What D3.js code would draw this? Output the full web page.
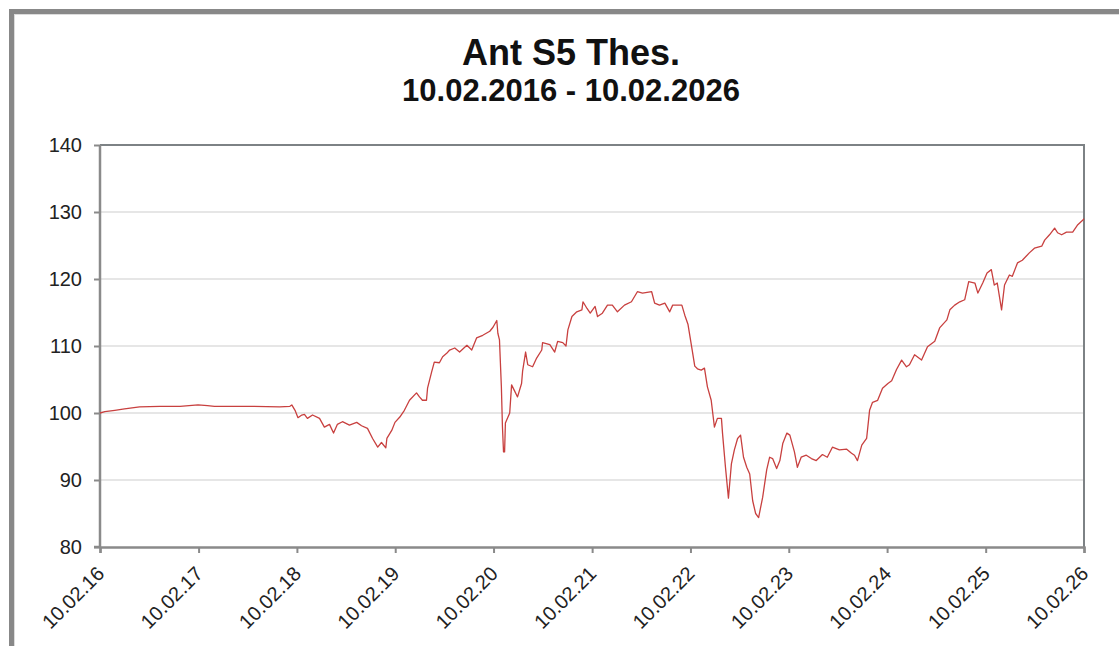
<!DOCTYPE html>
<html>
<head>
<meta charset="utf-8">
<script src="https://cdn.jsdelivr.net/npm/d3@7"></script>
<style>
    body { margin: 0; background: #fff; }
    svg { display: block; font-family: "Liberation Sans", Arial, sans-serif; }
</style>
</head>
<body>
<svg id="chart"></svg>
<script>
var title = 'Ant S5 Thes.';
var subtitle = '10.02.2016 - 10.02.2026';

var dates = [
    '2016-02-10','2016-02-28','2016-04-05','2016-05-11','2016-07-06','2016-09-19','2016-12-03',
    '2017-02-08','2017-03-15','2017-04-10','2017-08-18','2017-12-08',
    '2018-01-15','2018-01-22','2018-02-03','2018-02-14','2018-02-28','2018-03-10','2018-03-21',
    '2018-04-09','2018-05-05','2018-05-23','2018-06-11','2018-06-26','2018-07-10','2018-07-29',
    '2018-08-24','2018-09-20','2018-10-08','2018-10-30','2018-11-18','2018-12-07','2018-12-21',
    '2019-01-06','2019-01-10','2019-01-28','2019-02-09','2019-02-27','2019-03-16','2019-04-04',
    '2019-04-30','2019-05-11','2019-05-22','2019-06-06','2019-06-10','2019-06-25','2019-07-05',
    '2019-07-24','2019-08-05','2019-08-20','2019-08-31','2019-09-19','2019-10-07','2019-11-03',
    '2019-11-21','2019-12-09',
    '2020-01-01','2020-01-27','2020-02-08','2020-02-22','2020-02-26','2020-03-03','2020-03-10',
    '2020-03-14','2020-03-18','2020-03-22','2020-03-25','2020-04-10','2020-04-17','2020-04-28',
    '2020-05-09','2020-05-24','2020-05-28','2020-06-08','2020-06-16','2020-07-04','2020-07-19',
    '2020-08-07','2020-08-10','2020-09-06','2020-09-24','2020-10-05','2020-10-24','2020-11-05',
    '2020-11-12','2020-11-27','2020-12-15',
    '2021-01-03','2021-01-07','2021-01-22','2021-02-03','2021-02-21','2021-03-02','2021-03-20',
    '2021-04-08','2021-04-26','2021-05-15','2021-06-10','2021-07-06','2021-07-28','2021-08-16',
    '2021-09-19','2021-09-30','2021-10-18','2021-11-07','2021-11-25','2021-12-06',
    '2022-01-09','2022-01-20','2022-02-01','2022-02-16','2022-02-26','2022-03-08','2022-03-22',
    '2022-04-03','2022-04-14','2022-04-28','2022-05-10','2022-05-21','2022-06-05','2022-06-09',
    '2022-06-20','2022-07-01','2022-07-12','2022-07-23','2022-08-04','2022-08-15','2022-08-26',
    '2022-09-07','2022-09-18','2022-09-29','2022-10-10','2022-10-21','2022-11-05','2022-11-20',
    '2022-12-01','2022-12-12','2022-12-27',
    '2023-01-08','2023-01-19','2023-02-03','2023-02-14','2023-03-03','2023-03-14','2023-03-28',
    '2023-04-16','2023-05-05','2023-05-23','2023-06-15','2023-07-03','2023-07-22','2023-08-17',
    '2023-09-13','2023-10-01','2023-10-12','2023-10-23','2023-11-08','2023-11-26','2023-12-07',
    '2023-12-18',
    '2024-01-06','2024-01-24','2024-02-13','2024-02-27','2024-03-16','2024-04-04','2024-04-22',
    '2024-05-03','2024-05-22','2024-06-17','2024-07-09','2024-08-05','2024-08-23','2024-09-19',
    '2024-09-30','2024-10-18','2024-11-06','2024-11-24','2024-12-09',
    '2025-01-01','2025-01-12','2025-01-30','2025-02-15','2025-03-03','2025-03-14','2025-03-25',
    '2025-04-10','2025-04-21','2025-05-09','2025-05-20','2025-06-08','2025-06-26','2025-07-22',
    '2025-08-10','2025-09-06','2025-09-17','2025-10-05','2025-10-24','2025-11-04','2025-11-19',
    '2025-12-07','2025-12-30',
    '2026-01-18','2026-02-06','2026-02-10'
];

var values = [
    100.0,100.2,100.4,100.6,100.9,101.0,101.0,
    101.2,101.1,101.0,101.0,100.9,
    101.0,101.2,100.4,99.3,99.7,99.8,99.2,
    99.7,99.2,97.9,98.3,97.0,98.3,98.7,
    98.2,98.6,98.1,97.7,96.2,94.9,95.6,
    94.8,96.2,97.4,98.6,99.4,100.4,101.9,
    103.0,102.4,101.9,101.9,103.7,106.1,107.6,
    107.5,108.4,108.9,109.4,109.7,109.1,110.1,
    109.4,111.2,
    111.6,112.2,112.8,113.8,111.9,110.9,104.0,
    98.0,94.2,94.2,98.5,100.0,104.2,103.3,
    102.4,104.4,106.3,109.1,107.2,106.9,108.2,
    109.4,110.5,110.2,109.1,110.7,110.5,110.0,
    112.4,114.4,115.1,
    115.4,116.6,115.6,114.9,115.9,114.4,114.9,
    116.1,116.1,115.1,116.1,116.6,118.1,117.9,
    118.1,116.4,116.1,116.4,115.1,116.1,
    116.1,114.6,113.2,109.5,107.0,106.6,106.4,
    106.7,103.9,101.9,97.9,99.2,99.2,97.0,
    91.9,87.3,92.4,94.5,96.2,96.7,93.4,
    91.9,90.9,86.9,85.0,84.4,87.4,91.5,
    93.4,93.2,91.7,
    92.9,95.5,97.0,96.7,94.2,91.9,93.4,
    93.7,93.2,92.9,93.8,93.4,94.9,94.5,
    94.6,94.0,93.7,92.9,95.2,96.2,100.4,
    101.6,
    101.9,103.7,104.4,104.8,106.5,107.9,106.9,
    107.2,108.7,107.9,109.9,110.7,112.7,113.9,
    115.4,116.1,116.6,116.9,119.6,
    119.4,117.9,119.4,120.9,121.4,119.1,119.4,
    115.4,119.1,120.6,120.4,122.4,122.8,123.9,
    124.6,124.9,125.8,126.6,127.6,126.9,126.6,
    127.0,127.0,
    128.1,128.8,129.0
];

var yTicks = [80, 90, 100, 110, 120, 130, 140];
var xTickDates = ['2016-02-10','2017-02-10','2018-02-10','2019-02-10','2020-02-10','2021-02-10',
    '2022-02-10','2023-02-10','2024-02-10','2025-02-10','2026-02-10'];

var width = 1119, height = 646;
var margin = {left: 100, top: 145, right: 1084, bottom: 547};

var parseDate = d3.timeParse('%Y-%m-%d');
var fmt = d3.timeFormat('%d.%m.%y');

var data = dates.map(function(d, i) { return {date: parseDate(d), value: values[i]}; });

var svg = d3.select('#chart')
    .attr('width', width)
    .attr('height', height);

// outer frame, only the left and top edges are inside the picture
svg.append('rect')
    .attr('x', 11.5).attr('y', 11.5)
    .attr('width', width + 50).attr('height', height + 50)
    .attr('fill', 'none')
    .attr('stroke', '#888888')
    .attr('stroke-width', 5);
svg.append('rect')
    .attr('x', 14.5).attr('y', 14.5)
    .attr('width', width + 50).attr('height', height + 50)
    .attr('fill', 'none')
    .attr('stroke', '#dcdcdc')
    .attr('stroke-width', 1);

var x = d3.scaleTime()
    .domain([parseDate(xTickDates[0]), parseDate(xTickDates[xTickDates.length - 1])])
    .range([margin.left, margin.right]);

var y = d3.scaleLinear()
    .domain([80, 140])
    .range([margin.bottom, margin.top]);

// grid
svg.append('g')
    .selectAll('line')
    .data(yTicks.slice(1, -1))
    .enter().append('line')
    .attr('x1', margin.left).attr('x2', margin.right)
    .attr('y1', function(d) { return y(d); })
    .attr('y2', function(d) { return y(d); })
    .attr('stroke', '#e6e6e6')
    .attr('stroke-width', 2);

// top and right border
svg.append('path')
    .attr('d', 'M' + margin.left + ',' + margin.top + 'H' + margin.right + 'V' + margin.bottom)
    .attr('fill', 'none')
    .attr('stroke', '#7d8285')
    .attr('stroke-width', 2);

var yAxis = svg.append('g')
    .attr('transform', 'translate(' + margin.left + ',0)')
    .call(d3.axisLeft(y).tickValues(yTicks).tickSize(6).tickPadding(12));

var xAxis = svg.append('g')
    .attr('transform', 'translate(0,' + margin.bottom + ')')
    .call(d3.axisBottom(x).tickValues(xTickDates.map(parseDate)).tickSize(6).tickFormat(fmt));

[yAxis, xAxis].forEach(function(a) {
    a.select('.domain').attr('stroke', '#8a8a8a').attr('stroke-width', 2.5);
    a.selectAll('.tick line').attr('stroke', '#8a8a8a').attr('stroke-width', 2);
    a.selectAll('.tick text')
        .attr('fill', '#222')
        .style('font-size', '20px')
        .style('font-family', '"Liberation Sans", Arial, sans-serif');
});
yAxis.select('.domain').attr('d', 'M-6,' + margin.bottom + 'H0V' + margin.top);

xAxis.selectAll('.tick text')
    .attr('text-anchor', 'end')
    .attr('y', 0)
    .attr('dy', 0)
    .attr('transform', 'translate(5,28) rotate(-45)');

var line = d3.line()
    .x(function(d) { return x(d.date); })
    .y(function(d) { return y(d.value); });

svg.append('path')
    .datum(data)
    .attr('d', line)
    .attr('fill', 'none')
    .attr('stroke', '#c8403f')
    .attr('stroke-width', 1.3)
    .attr('stroke-linejoin', 'round');

svg.append('text')
    .attr('x', 571).attr('y', 65)
    .attr('text-anchor', 'middle')
    .style('font-size', '36px')
    .style('font-weight', 'bold')
    .attr('fill', '#111')
    .text(title);

svg.append('text')
    .attr('x', 571).attr('y', 101)
    .attr('text-anchor', 'middle')
    .style('font-size', '31px')
    .style('font-weight', 'bold')
    .attr('fill', '#111')
    .text(subtitle);
</script>
</body>
</html>
